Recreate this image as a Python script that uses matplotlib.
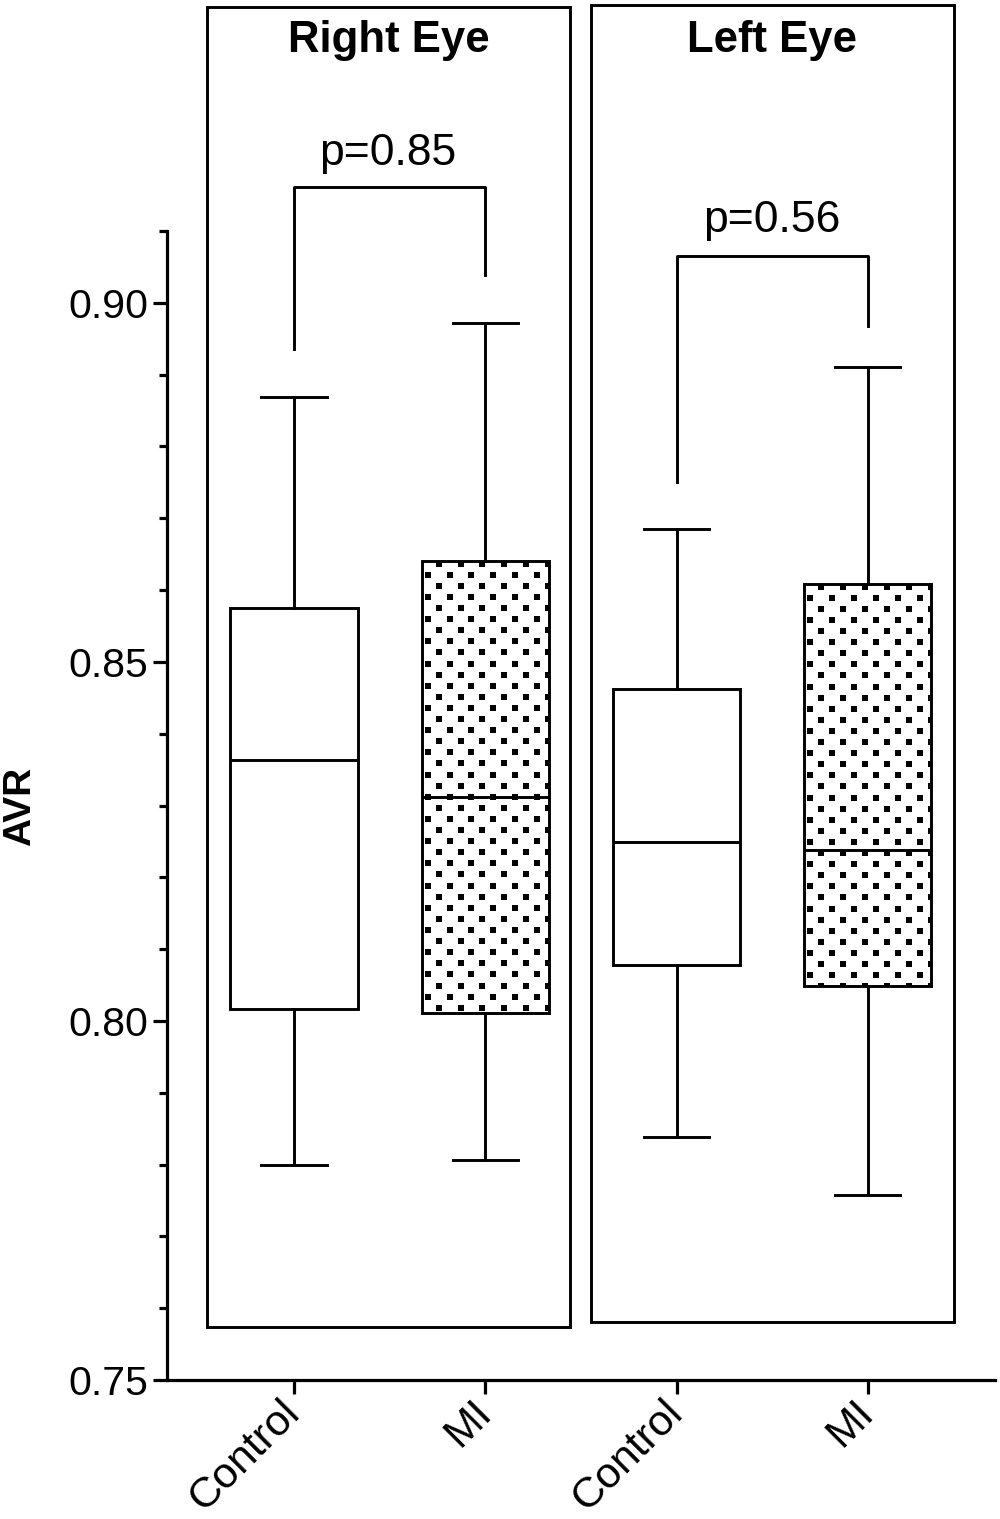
import numpy as np
import matplotlib
matplotlib.use('Agg')
import matplotlib.pyplot as plt
from matplotlib.patches import Rectangle

plt.rcParams['font.family'] = ['Liberation Sans', 'DejaVu Sans']

# data (AVR)
groups = ['Control', 'MI', 'Control', 'MI']
whis_lo = [0.7799, 0.7806, 0.7838, 0.7758]
q1 = [0.8017, 0.8011, 0.8078, 0.8049]
med = [0.8364, 0.8312, 0.8249, 0.8238]
q3 = [0.8575, 0.8641, 0.8462, 0.8609]
whis_hi = [0.8869, 0.8972, 0.8685, 0.8911]
dotted = [False, True, False, True]

panels = ['Right Eye', 'Left Eye']
p_text = ['p=0.85', 'p=0.56']
# bracket: left foot, top, right foot
brk_left = [0.8936, 0.8751]
brk_top = [0.9162, 0.9065]
brk_right = [0.9039, 0.8968]

lw = 2.1
fig = plt.figure(figsize=(10, 15.19), dpi=100)
ax = fig.add_axes([0.167, 0.0915, 0.828, 0.7564])
ax.set_xlim(-0.664, 3.665)
ax.set_ylim(0.75, 0.91)

pos = np.arange(len(groups))
stats = []
for i in range(len(groups)):
    stats.append(dict(whislo=whis_lo[i], q1=q1[i], med=med[i], q3=q3[i],
                      whishi=whis_hi[i], fliers=[]))
res = ax.bxp(stats, positions=pos, widths=0.665, capwidths=0.34,
             showfliers=False, patch_artist=True,
             boxprops=dict(facecolor='white', edgecolor='black', linewidth=lw),
             whiskerprops=dict(color='black', linewidth=lw),
             capprops=dict(color='black', linewidth=lw),
             medianprops=dict(color='black', linewidth=lw))

# dotted fill for MI boxes
px_x = 191.3
px_y = 7180.0
dx = 21.9 / px_x
dy = 11.1 / px_y
for i, box in enumerate(res['boxes']):
    if not dotted[i]:
        continue
    left = pos[i] - 0.665 / 2
    right = pos[i] + 0.665 / 2
    ys = np.arange(q3[i] - 3 / px_y, q1[i] - dy, -dy)
    xs_all, ys_all = [], []
    for r, yy in enumerate(ys):
        off = 6 / px_x if r % 2 else 6 / px_x + dx / 2
        xs = np.arange(left + off, right + dx, dx)
        xs_all.extend(xs)
        ys_all.extend([yy] * len(xs))
    sc = ax.scatter(xs_all, ys_all, s=13, marker='s', color='black',
                    linewidths=0, zorder=3)
    sc.set_clip_path(box)

# panel frames and titles
frames = [(-0.455, 0.7574, 1.898, 0.1838), (1.553, 0.7581, 1.897, 0.1834)]
for k, (x0, y0, w, h) in enumerate(frames):
    ax.add_patch(Rectangle((x0, y0), w, h, fill=False, edgecolor='black',
                           linewidth=lw, clip_on=False, zorder=1))
    ax.text(x0 + w / 2, 0.9366, panels[k], ha='center', va='center',
            fontsize=31.5, fontweight='bold', clip_on=False)

# significance brackets
for k in range(2):
    a, b = pos[2 * k], pos[2 * k + 1]
    ax.plot([a, a, b, b], [brk_left[k], brk_top[k], brk_top[k], brk_right[k]],
            color='black', linewidth=lw, clip_on=False)
ax.text(0.491, 0.9192, p_text[0], ha='center', va='baseline', fontsize=32,
        clip_on=False)
ax.text(2.5, 0.9098, p_text[1], ha='center', va='baseline', fontsize=32,
        clip_on=False)

# axes styling
for s in ['top', 'right']:
    ax.spines[s].set_visible(False)
for s in ['left', 'bottom']:
    ax.spines[s].set_linewidth(2.3)
ax.set_yticks([0.75, 0.80, 0.85, 0.90])
ax.set_yticklabels(['0.75', '0.80', '0.85', '0.90'])
ax.set_yticks(np.arange(0.75, 0.9101, 0.01), minor=True)
ax.tick_params(axis='y', which='major', length=10, width=2.3, labelsize=29.5, pad=3.5)
ax.tick_params(axis='y', which='minor', length=5.5, width=2.3)
ax.set_xticks(pos)
ax.set_xticklabels(groups, rotation=45, ha='right', va='center',
                   rotation_mode='anchor')
ax.tick_params(axis='x', length=10, width=2.3, labelsize=31, pad=9)

fig.text(0.020, 1 - 806 / 1519, 'AVR', rotation=90, ha='center', va='center',
         fontsize=28, fontweight='bold')

fig.savefig('out.png', dpi=100)
